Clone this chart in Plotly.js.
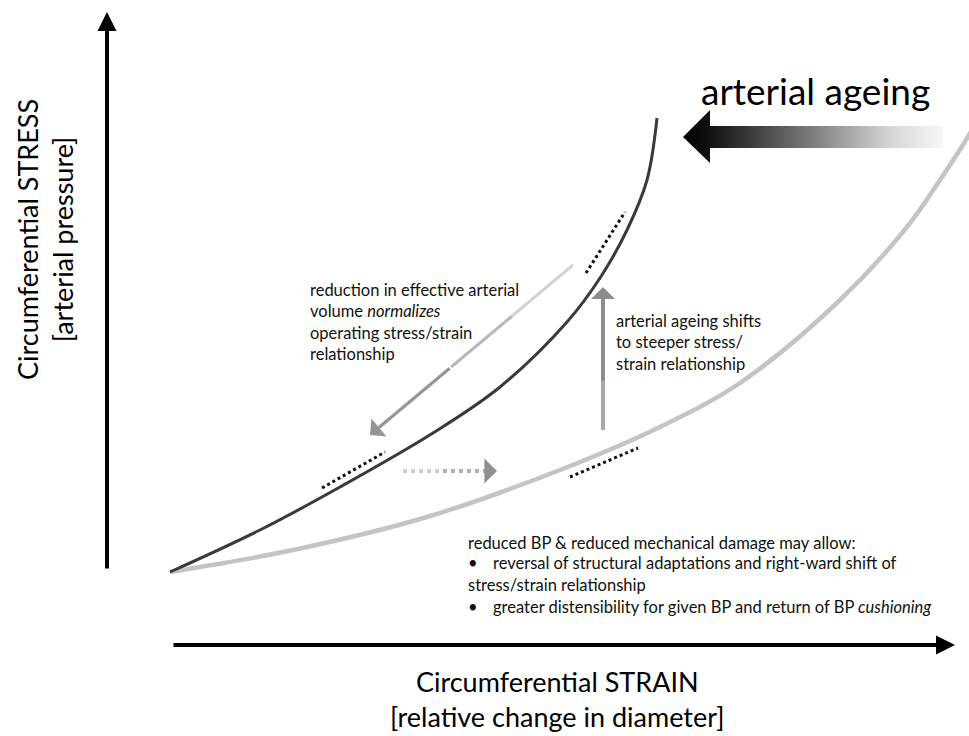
<!DOCTYPE html>
<html><head><meta charset="utf-8">
<script src="https://cdn.plot.ly/plotly-3.0.1.min.js"></script>
<style>html,body{margin:0;padding:0;background:#fff}#chart{width:969px;height:736px}</style>
</head><body><div id="chart"></div>
<script>
// Conceptual stress/strain curves (strain on x, stress on y; origin at start of curves)
const agedStrain    = [0, 90, 170, 263, 330, 397, 430, 457, 477, 487];
const agedStress    = [0, 42, 85, 139, 185, 250, 294, 342, 392, 454];
const youngStrain   = [0, 123, 257, 390, 490, 570, 670, 737, 770, 799, 815];
const youngStress   = [0, 22, 55, 102, 145, 189, 272, 345, 392, 437, 467];

// Operating-point dotted segments [x0, y0, x1, y1]
const opAgedLow   = [152, 84, 215, 120];
const opAgedHigh  = [416, 299, 455, 360];
const opYoung     = [400, 95, 468, 124];

// Arrows [xFrom, yFrom, xTo, yTo]
const arrowNormalize = [403, 307, 200, 137];
const arrowShift     = [233, 101, 327, 101];
const arrowAgeing    = [433, 142, 433, 285];
const axisStressArrow = [-63, 2, -63, 560];
const axisStrainArrow = [2, -73, 785, -73];

// Big "arterial ageing" arrow outline
const bigArrowX = [513, 540, 540, 773, 773, 540, 540, 513];
const bigArrowY = [435, 462, 446, 446, 424, 424, 409, 435];

// Texts
const yTitle = "Circumferential STRESS<br>[arterial pressure]";
const xTitle = "Circumferential STRAIN<br>[relative change in diameter]";
const ageingLabel = "arterial ageing";
const normText = "reduction in effective arterial<br>volume <i>normalizes</i><br>operating stress/strain<br>relationship";
const shiftText = "arterial ageing shifts<br>to steeper stress/<br>strain relationship";
const bottomLines = [
  "reduced BP &amp; reduced mechanical damage may allow:",
  "reversal of structural adaptations and right-ward shift of",
  "stress/strain relationship",
  "greater distensibility for given BP and return of BP <i>cushioning</i>"
];
const bottomBullets = [false, true, false, true];
const bottomLineY = [29, 9, -13, -35];

const FONT = "Lato, 'Open Sans', sans-serif";

function seg(s, color, width, dash) {
  return {x:[s[0], s[2]], y:[s[1], s[3]], mode:'lines', hoverinfo:'skip',
          line:{color:color, width:width, dash:dash||'solid'}};
}
function lerp(a, t) { return [a[0] + (a[2]-a[0])*t, a[1] + (a[3]-a[1])*t]; }

const nA = lerp(arrowNormalize, 0.3), nB = lerp(arrowNormalize, 0.6);

const traces = [
  {x: youngStrain, y: youngStress, mode:'lines', line:{color:'#c4c4c4', width:4.5, shape:'spline', smoothing:1}, hoverinfo:'skip'},
  {x: agedStrain, y: agedStress, mode:'lines', line:{color:'#3a3a3a', width:3, shape:'spline', smoothing:1}, hoverinfo:'skip'},
  seg(opAgedLow, '#111', 3, 'dot'),
  seg(opAgedHigh, '#111', 3, 'dot'),
  seg(opYoung, '#111', 3, 'dot'),
  seg([arrowShift[0], arrowShift[1], arrowShift[0]+40, arrowShift[3]], '#d0d0d0', 4, 'dot'),
  seg([arrowShift[0]+40, arrowShift[1], arrowShift[2]-10, arrowShift[3]], '#b0b0b0', 4, 'dot'),
  seg([arrowNormalize[0], arrowNormalize[1], nA[0], nA[1]], '#d2d2d2', 3),
  seg([nA[0], nA[1], nB[0], nB[1]], '#b8b8b8', 3),
  seg([arrowAgeing[0], arrowAgeing[1], arrowAgeing[0], arrowAgeing[1]+50], '#a8a8a8', 4),
  {x: bigArrowX, y: bigArrowY, mode:'lines', fill:'toself', line:{width:0, color:'rgba(0,0,0,0)'},
   fillcolor:'#777',
   fillgradient:{type:'horizontal', colorscale:[[0,'#000000'],[0.12,'#151515'],[0.45,'#707070'],[0.8,'#d6d6d6'],[1,'#f8f8f8']]},
   hoverinfo:'skip'}
];

function arrow(a, color, width, size, head) {
  return {x:a[2], y:a[3], ax:a[0], ay:a[1], xref:'x', yref:'y', axref:'x', ayref:'y',
          showarrow:true, arrowhead: head===undefined?2:head, arrowsize:size, arrowwidth:width,
          arrowcolor:color, text:''};
}

const annotations = [
  arrow(axisStressArrow, '#000', 4, 0.95, 2),
  arrow(axisStrainArrow, '#000', 4, 0.95, 2),
  arrow([nB[0], nB[1], arrowNormalize[2], arrowNormalize[3]], '#959595', 3, 1.3, 1),
  arrow([arrowAgeing[0], arrowAgeing[1]+48, arrowAgeing[2], arrowAgeing[3]], '#8c8c8c', 4, 1.0, 1),
  {x:arrowShift[2], y:arrowShift[3], ax:arrowShift[2]-14, ay:arrowShift[3], xref:'x', yref:'y', axref:'x', ayref:'y',
   showarrow:true, arrowhead:1, arrowsize:1.2, arrowwidth:3.5, arrowcolor:'#909090', text:''},
  {x:645, y:482, xref:'x', yref:'y', text:ageingLabel, showarrow:false,
   font:{family:FONT, size:37, color:'#000'}},
  {x:-125, y:332, xref:'x', yref:'y', text:yTitle, showarrow:false, textangle:-90,
   font:{family:FONT, size:27, color:'#000'}},
  {x:387, y:-127, xref:'x', yref:'y', text:xTitle, showarrow:false,
   font:{family:FONT, size:27, color:'#000'}},
  {x:138, y:250.5, xref:'x', yref:'y', text:normText, showarrow:false, xanchor:'left', align:'left',
   font:{family:FONT, size:16.5, color:'#111'}},
  {x:444, y:229.5, xref:'x', yref:'y', text:shiftText, showarrow:false, xanchor:'left', align:'left',
   font:{family:FONT, size:16.5, color:'#111'}}
];
bottomLines.forEach((t, i) => {
  if (bottomBullets[i]) {
    annotations.push({x:296, y:bottomLineY[i], xref:'x', yref:'y', text:'•', showarrow:false, xanchor:'left',
      font:{family:FONT, size:16.5, color:'#111'}});
  }
  annotations.push({x: bottomBullets[i] ? 321 : 296, y:bottomLineY[i], xref:'x', yref:'y', text:t, showarrow:false,
    xanchor:'left', align:'left', font:{family:FONT, size:16.5, color:'#111'}});
});

const layout = {
  width:969, height:736, margin:{l:0, r:0, t:0, b:0},
  paper_bgcolor:'#fff', plot_bgcolor:'#fff', showlegend:false,
  xaxis:{range:[-170, 799], visible:false, fixedrange:true},
  yaxis:{range:[-164, 572], visible:false, fixedrange:true},
  annotations: annotations
};

Plotly.newPlot('chart', traces, layout, {displayModeBar:false, staticPlot:true});
</script>
</body></html>
